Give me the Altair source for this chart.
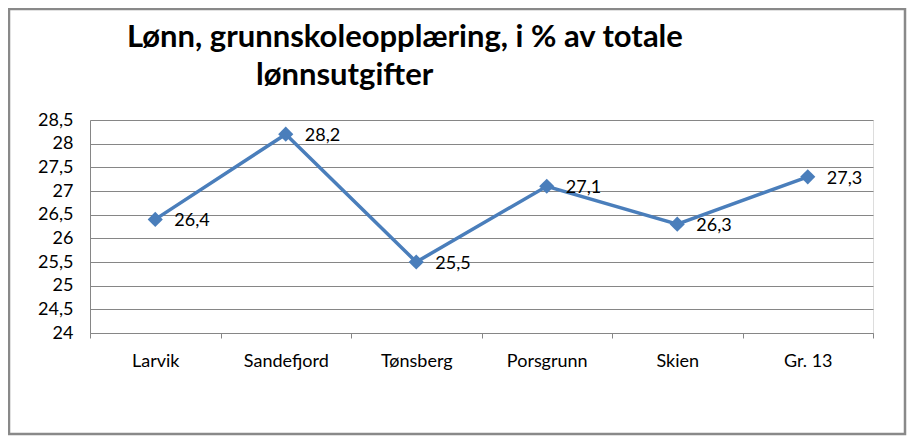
import altair as alt
import pandas as pd

categories = ["Larvik", "Sandefjord", "Tønsberg", "Porsgrunn", "Skien", "Gr. 13"]
values = [26.4, 28.2, 25.5, 27.1, 26.3, 27.3]
title_lines = ["Lønn, grunnskoleopplæring, i % av totale", "lønnsutgifter"]
y_ticks = [24, 24.5, 25, 25.5, 26, 26.5, 27, 27.5, 28, 28.5]

df = pd.DataFrame({"kommune": categories, "verdi": values})

BLUE = "#4a7ebb"
GRAY = "#868686"
FONT = "Lato"

x_enc = alt.X("kommune:N", sort=categories, title=None,
              scale=alt.Scale(paddingInner=0, paddingOuter=0),
              axis=alt.Axis(labelAngle=0, labelFont=FONT, labelFontSize=18,
                            labelColor="#000000", tickBand="extent",
                            tickColor=GRAY, tickSize=5, domainColor=GRAY,
                            labelPadding=14, grid=False))
y_enc = alt.Y("verdi:Q", title=None,
              scale=alt.Scale(domain=[24, 28.5], nice=False, zero=False),
              axis=alt.Axis(values=y_ticks, labelFont=FONT, labelFontSize=18,
                            labelColor="#000000", ticks=False, labelPadding=17,
                            domainColor=GRAY, gridColor=GRAY, gridOpacity=1,
                            labelExpr="replace(format(datum.value, '.1~f'), '.', ',')"))

base = alt.Chart(df).encode(x=x_enc, y=y_enc)

line = base.mark_line(color=BLUE, strokeWidth=3.5)
points = base.mark_point(shape="diamond", filled=True, size=230, color=BLUE, opacity=1)
labels = base.transform_calculate(
    lbl="replace(format(datum.verdi, '.1f'), '.', ',')"
).mark_text(align="left", baseline="middle", dx=19, dy=2, font=FONT,
            fontSize=18, color="#000000").encode(text="lbl:N")

title1 = alt.Chart(pd.DataFrame({"t": [title_lines[0]]})).mark_text(
    align="left", baseline="alphabetic", font=FONT, fontSize=31,
    fontWeight="bold", color="#000000"
).encode(text="t:N", x=alt.value(37), y=alt.value(-73))
title2 = alt.Chart(pd.DataFrame({"t": [title_lines[1]]})).mark_text(
    align="left", baseline="alphabetic", font=FONT, fontSize=31,
    fontWeight="bold", color="#000000"
).encode(text="t:N", x=alt.value(166), y=alt.value(-35))

frame = alt.Chart(pd.DataFrame({"a": [0]})).mark_rect(
    fill=None, stroke="#898989", strokeWidth=2.5
).encode(x=alt.value(-81), x2=alt.value(815), y=alt.value(-111), y2=alt.value(314))

chart = alt.layer(frame, line, points, labels, title1, title2).properties(
    width=783, height=213,
    padding={"left": 82, "top": 112, "right": 34, "bottom": 103},
    autosize=alt.AutoSizeParams(type="none"),
).configure_view(stroke=None).configure(background="#ffffff")

chart.save("out.html", embed_options={"renderer": "svg", "actions": False})
